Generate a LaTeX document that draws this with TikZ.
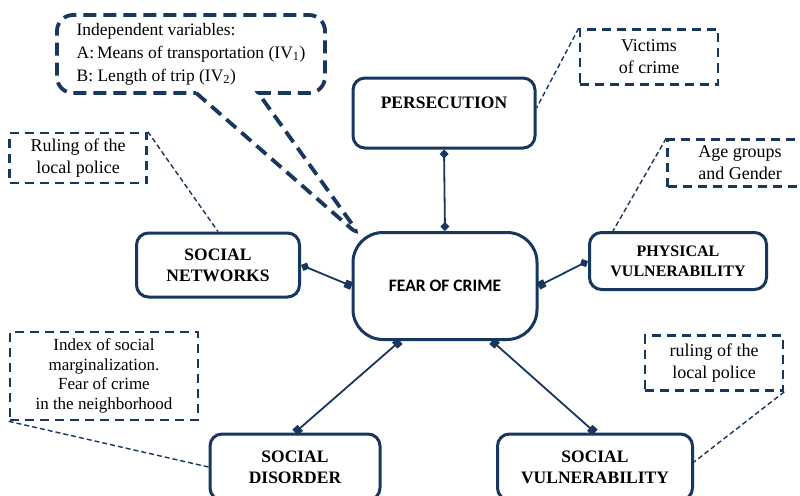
\documentclass[tikz,border=0pt]{standalone}
\usepackage{fontspec}
\setmainfont{Liberation Serif}
\newfontfamily\calibri{Carlito}
\usetikzlibrary{arrows.meta,shapes.callouts}
\definecolor{navy}{HTML}{17375E}

\tikzset{
    mainbox/.style={draw=navy, line width=3pt, rounded corners=12pt, fill=white,
        align=center, inner sep=0pt, font=\fontsize{17.5}{21}\selectfont\bfseries},
    notebox/.style={draw=navy, line width=2.6pt, dash pattern=on 9pt off 6pt,
        align=center, inner sep=0pt, font=\fontsize{18}{22}\selectfont},
    link/.style={draw=navy, line width=1.8pt},
    hint/.style={draw=navy, line width=1.4pt, dash pattern=on 5pt off 3pt},
}

\begin{document}
\begin{tikzpicture}[x=1pt,y=-1pt]
    \def\tipD{Diamond[length=9pt,width=9pt]}
    \def\tipS{Square[length=7pt,width=8pt]}
    \fill[white] (0,0) rectangle (800,495);
    \useasboundingbox (0,0) rectangle (800,495);

    % callout with the independent variables
    \coordinate (tip) at (362,238);
    \node[rectangle callout, draw=navy, line width=3.8pt, dash pattern=on 13pt off 7pt,
        rounded corners=16pt, minimum width=268, minimum height=78, inner sep=0pt,
        callout absolute pointer={(tip)}, callout pointer width=62pt,
        align=left, font=\fontsize{17.5}{23}\selectfont] (vars) at (191,54)
        {Independent variables:\\A:\,Means of transportation (IV\textsubscript{1})\\B: Length of trip (IV\textsubscript{2})};

    % main boxes
    \node[mainbox, minimum width=182, minimum height=70] (pers) at (444,113) {PERSECUTION\\\mbox{}};
    \node[mainbox, rounded corners=30pt, minimum width=184, minimum height=107,
        font=\calibri\fontsize{17.5}{18}\selectfont\bfseries] (fear) at (445,286) {FEAR OF CRIME};
    \node[mainbox, minimum width=163, minimum height=64] (netw) at (218,265) {SOCIAL\\NETWORKS};
    \node[mainbox, minimum width=177, minimum height=57,
        font=\fontsize{16}{20}\selectfont\bfseries] (phys) at (678,261) {PHYSICAL\\VULNERABILITY};
    \node[mainbox, minimum width=170, minimum height=66] (disord) at (295,467) {SOCIAL\\DISORDER};
    \node[mainbox, minimum width=195, minimum height=66] (vuln) at (595,467) {SOCIAL\\VULNERABILITY};

    % dashed notes
    \node[notebox, minimum width=138, minimum height=55] (victims) at (649,57) {Victims\\of crime};
    \node[notebox, minimum width=137, minimum height=50] (rulingA) at (78,158) {Ruling of the\\local police};
    \node[notebox, minimum width=145, minimum height=47] (age) at (740,163) {Age groups\\and Gender};
    \node[notebox, minimum width=188, minimum height=88,
        font=\fontsize{17}{19.5}\selectfont] (index) at (104,376)
        {Index of social\\marginalization.\\Fear of crime\\in the neighborhood};
    \node[notebox, minimum width=138, minimum height=55] (rulingB) at (714,363) {ruling of the\\local police};

    % links to the centre
    \draw[link, {\tipD}-{\tipD}] (pers.south) -- (fear.north);
    \draw[link, {\tipD}-{\tipS}] (netw.east) -- (fear.west);
    \draw[link, {\tipD}-{\tipS}] (phys.west) -- (fear.east);
    \draw[link, {\tipS}-{\tipS}] ([xshift=-45pt]fear.south) -- (disord.north);
    \draw[link, {\tipS}-{\tipS}] ([xshift=47pt]fear.south) -- (vuln.north);

    % note leaders
    \draw[hint] (victims.north west) -- ([yshift=5pt]pers.east);
    \draw[hint] (rulingA.north east) -- (netw.north);
    \draw[hint] (age.north west) -- ([xshift=-65pt]phys.north);
    \draw[hint] (index.south west) -- (disord.west);
    \draw[hint] (rulingB.south east) -- ([yshift=5pt]vuln.east);
\end{tikzpicture}
\end{document}
